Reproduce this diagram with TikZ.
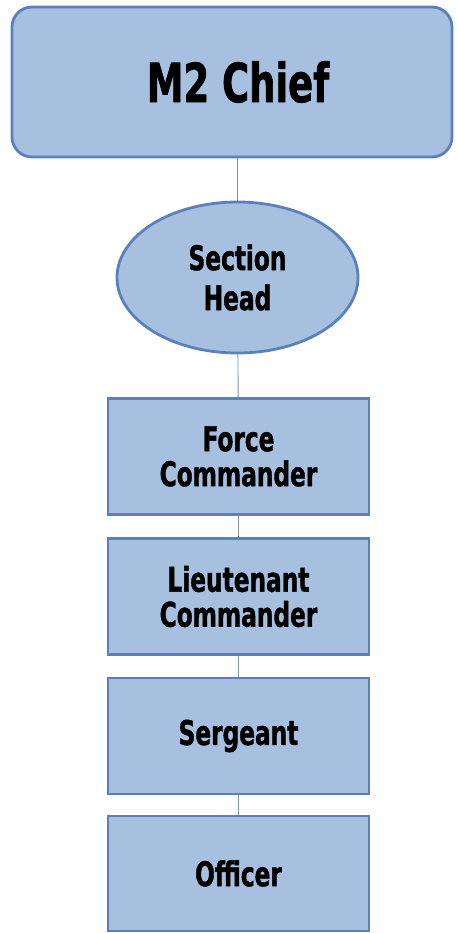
\documentclass[tikz,border=0pt]{standalone}
\usepackage{fontspec}
\usetikzlibrary{shapes.geometric}
\newfontfamily\impactfont{DejaVu Sans Condensed Bold}[FakeStretch=0.76, FakeBold=1.2]
\definecolor{boxfill}{RGB}{168,192,224}
\definecolor{boxline}{RGB}{90,128,190}
\definecolor{linkline}{RGB}{125,145,175}

\begin{document}
\begin{tikzpicture}[x=1pt, y=-1pt]
\tikzset{rang/.style={draw=boxline, fill=boxfill, line width=2.8pt, inner sep=0pt,
    align=center, font=\impactfont\fontsize{34}{35}\selectfont},
  grade/.style={rang, rectangle, minimum width=261pt, minimum height=116pt},
  lien/.style={draw=linkline, line width=0.9pt}}
\useasboundingbox (0, 0) rectangle (456, 933);
\node[rang, rectangle, rounded corners=20pt, minimum width=440pt, minimum height=150pt,
  font=\impactfont\fontsize{54}{60}\selectfont] (C) at (232, 82) {\hspace*{12pt}M2 Chief};
\node[rang, ellipse, minimum width=241pt, minimum height=151pt,
  font=\impactfont\fontsize{34}{40}\selectfont] (H) at (237.5, 277.5) {Section\\Head};
\node[grade] (R1) at (238.5, 456.5) {Force\\Commander};
\node[grade] (R2) at (238.5, 596.5) {Lieutenant\\Commander};
\node[grade] (R3) at (238.5, 736) {Sergeant};
\node[grade, minimum height=115pt] (R4) at (238.5, 873.5) {Officer};
\draw[lien] (C.south -| H.north) -- (H.north);
\draw[lien] (H) -- (R1);
\draw[lien] (R1) -- (R2);
\draw[lien] (R2) -- (R3);
\draw[lien] (R3) -- (R4);
\end{tikzpicture}
\end{document}
